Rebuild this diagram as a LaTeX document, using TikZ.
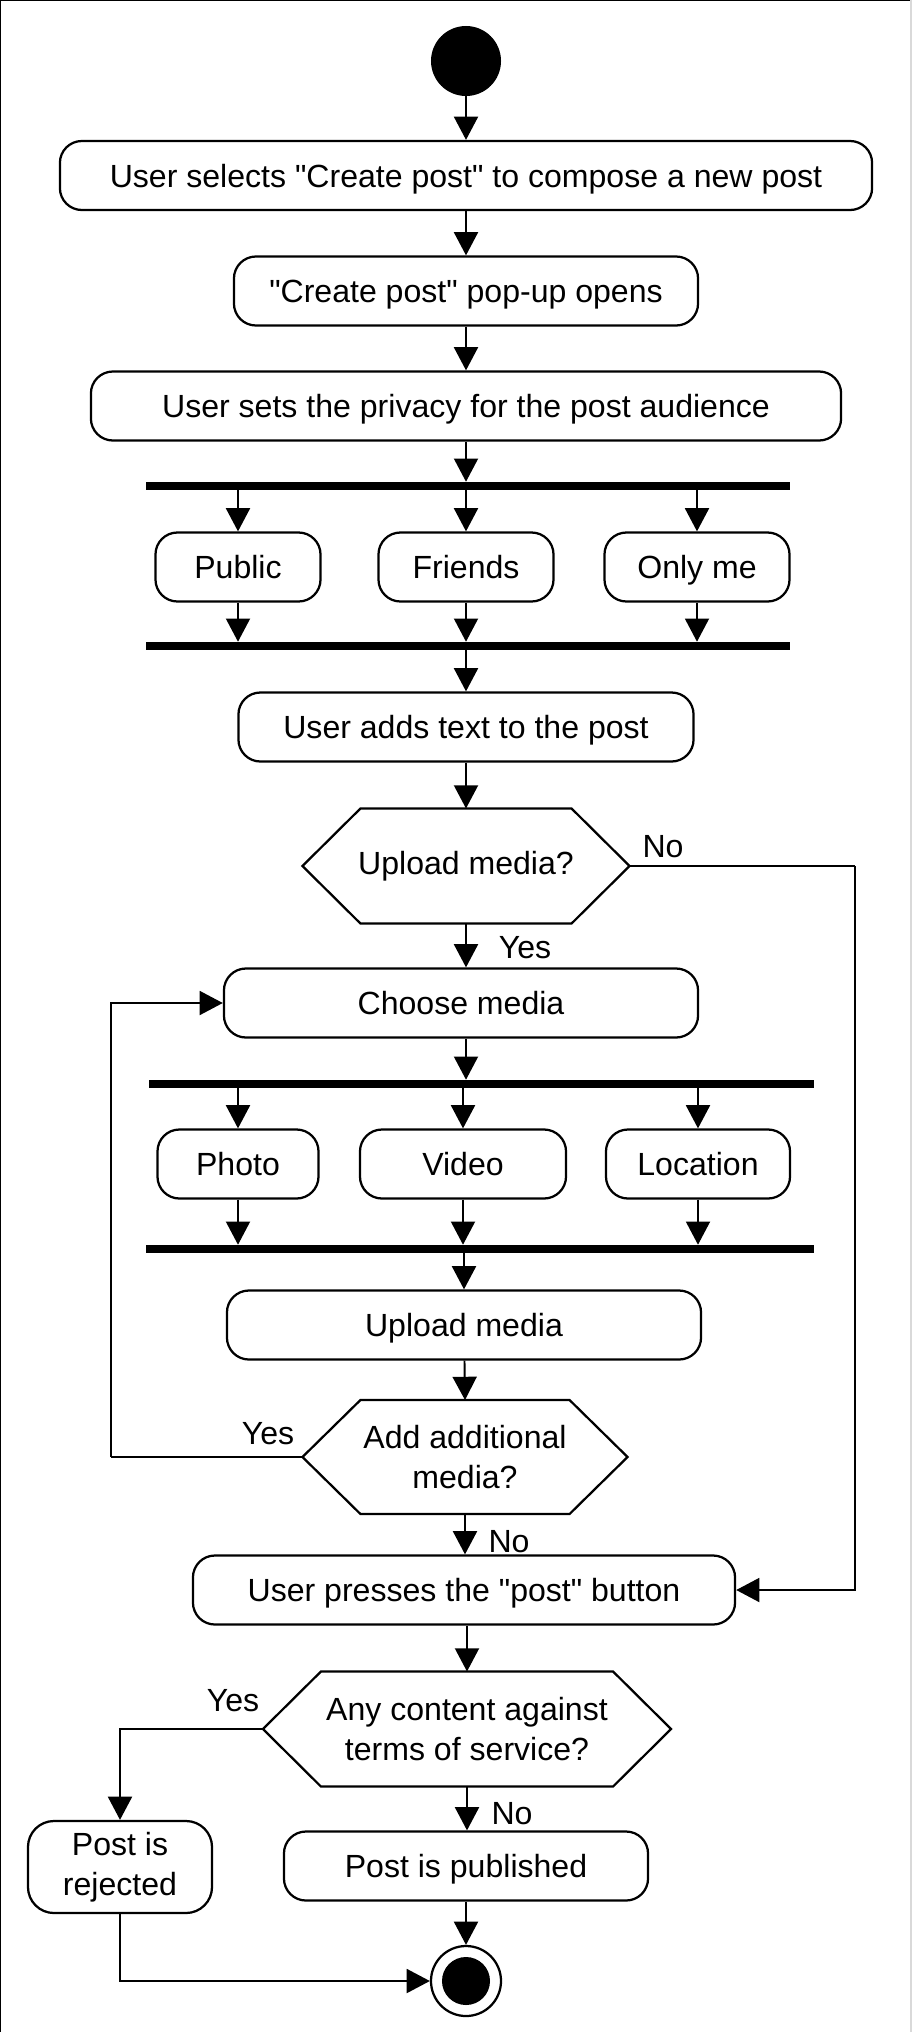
\documentclass[tikz,border=0pt]{standalone}
\usepackage{fontspec}
\setmainfont{Liberation Sans}
\usetikzlibrary{calc,arrows.meta}
\newcommand{\hexa}[1]{%
  \draw[contour] (#1.west) -- ($(#1.north west)+(58,0)$)%
  -- ($(#1.north east)+(-58,0)$) -- (#1.east)%
  -- ($(#1.south east)+(-58,0)$) -- ($(#1.south west)+(58,0)$) -- cycle;}
\newcommand{\guil}{\textquotedbl}

\begin{document}
\begin{tikzpicture}[x=0.025cm,y=-0.025cm,%
    font=\fontsize{22.8}{28}\selectfont%
    ]
    %
    % Styles
    %
    \tikzset{contour/.style={line width=1.6pt}};%
    \tikzset{etape/.style={draw,contour,rounded corners=0.55cm,%
        minimum height=1.725cm,inner sep=0pt,align=center,%
        text height=16.4pt,text depth=0pt}};%
    \tikzset{choix/.style={minimum height=2.875cm,inner sep=0pt,%
        outer sep=0pt,align=center}};%
    \tikzset{barre/.style={fill=black,minimum height=0.2cm,inner sep=0pt}};%
    \tikzset{lien/.style={line width=1.4pt}};%
    \tikzset{fleche/.style={lien,-{Triangle[length=0.58cm,width=0.6cm]}}};%
    \tikzset{etiq/.style={inner sep=0pt}};%

    \useasboundingbox (0,0) rectangle (912,2032);%
    % Cadre
    \draw[line width=1.6pt] (0,2032) -- (0,0) -- (912,0);%
    \draw[line width=1pt,black!15] (911,0) -- (911,2032);%

    %
    % Noeuds
    %
    \node[circle,fill=black,minimum size=1.75cm,inner sep=0pt] (debut) at (466,61) {};%
    \node[etape,minimum width=20.3cm] (choisir) at (466,175.5)%
    {User selects \guil Create post\guil{} to compose a new post};%
    \node[etape,minimum width=11.6cm] (popup) at (466,291)%
    {\guil Create post\guil{} pop-up opens};%
    \node[etape,minimum width=18.75cm] (confid) at (466,406)%
    {User sets the privacy for the post audience};%

    % Audience
    \node[barre,minimum width=16.1cm] (fourche1) at (468,486) {};%
    \node[etape,minimum width=4.125cm] (public) at (238,567) {Public};%
    \node[etape,minimum width=4.375cm] (amis) at (466,567) {Friends};%
    \node[etape,minimum width=4.625cm] (moi) at (697,567) {Only me};%
    \node[barre,minimum width=16.1cm] (jonction1) at (468,646) {};%

    \node[etape,minimum width=11.375cm] (texte) at (466,727)%
    {User adds text to the post};%
    \node[choix,minimum width=8.175cm] (media) at (466,866) {Upload media?};%
    \hexa{media}%
    \node[etape,minimum width=11.85cm] (choixmedia) at (461,1003) {Choose media};%

    % Types de media
    \node[barre,minimum width=16.625cm] (fourche2) at (481.5,1084) {};%
    \node[etape,minimum width=4.025cm] (photo) at (238,1164) {Photo};%
    \node[etape,minimum width=5.15cm] (video) at (463,1164) {Video};%
    \node[etape,minimum width=4.6cm] (lieu) at (698,1164) {Location};%
    \node[barre,minimum width=16.7cm] (jonction2) at (480,1249) {};%

    \node[etape,minimum width=11.85cm] (envoi) at (464,1325) {Upload media};%
    \node[choix,minimum width=8.125cm,minimum height=2.85cm] (autre) at (465,1457)%
    {Add additional\\media?};%
    \hexa{autre}%
    \node[etape,minimum width=13.55cm] (publier) at (464,1590)%
    {User presses the \guil post\guil{} button};%
    \node[choix,minimum width=10.2cm] (regles) at (467,1729)%
    {Any content against\\terms of service?};%
    \hexa{regles}%
    \node[etape,rounded corners=0.65cm,minimum width=4.6cm,minimum height=2.3cm,%
    text height={},text depth={}] (rejet) at (120,1867) {Post is\\rejected};%
    \node[etape,minimum width=9.1cm] (publie) at (466,1866) {Post is published};%
    \node[circle,draw,contour,minimum size=1.75cm,inner sep=0pt] (fin) at (466,1981) {};%
    \node[circle,fill=black,minimum size=1.2cm,inner sep=0pt] (finpoint) at (fin) {};%

    % Etiquettes
    \node[etiq] (non1) at (663,847) {No};%
    \node[etiq] (oui1) at (525,948) {Yes};%
    \node[etiq] (oui2) at (268,1434) {Yes};%
    \node[etiq] (non2) at (509,1542) {No};%
    \node[etiq] (oui3) at (233,1701) {Yes};%
    \node[etiq] (non3) at (512,1814) {No};%

    % Coins des retours
    \coordinate (droite) at (855,866);%
    \coordinate (gauche) at (111,1457);%

    %
    % Fleches
    %
    \draw[fleche] (debut) -- (choisir);%
    \draw[fleche] (choisir) -- (popup);%
    \draw[fleche] (popup) -- (confid);%
    \draw[fleche] (confid) -- (confid.south |- fourche1.north);%
    \foreach \n in {public,amis,moi}{%
        \draw[fleche] (\n |- fourche1.south) -- (\n.north);%
        \draw[fleche] (\n.south) -- (\n.south |- jonction1.north);%
    }
    \draw[fleche] (texte.north |- jonction1.south) -- (texte);%
    \draw[fleche] (texte) -- (media.north);%
    \draw[fleche] (media.south) -- (media.south |- choixmedia.north);%
    \draw[lien] (media.east) -- (droite);%
    \draw[fleche] (droite) |- (publier.east);%
    \draw[fleche] (choixmedia.south -| media) -- (media |- fourche2.north);%
    \foreach \n in {photo,video,lieu}{%
        \draw[fleche] (\n |- fourche2.south) -- (\n.north);%
        \draw[fleche] (\n.south) -- (\n.south |- jonction2.north);%
    }
    \draw[fleche] (envoi.north |- jonction2.south) -- (envoi);%
    \draw[fleche] (envoi) -- (autre.north);%
    \draw[lien] (autre.west) -- (gauche);%
    \draw[fleche] (gauche) |- (choixmedia.west);%
    \draw[fleche] (autre.south) -- (autre.south |- publier.north);%
    \draw[fleche] (publier.south -| regles) -- (regles.north);%
    \draw[fleche] (regles.west) -| (rejet.north);%
    \draw[fleche] (regles.south) -- (regles.south |- publie.north);%
    \draw[fleche] (publie.south -| fin) -- (fin.north);%
    \draw[fleche] (rejet.south) |- (fin.west);%

\end{tikzpicture}
\end{document}
